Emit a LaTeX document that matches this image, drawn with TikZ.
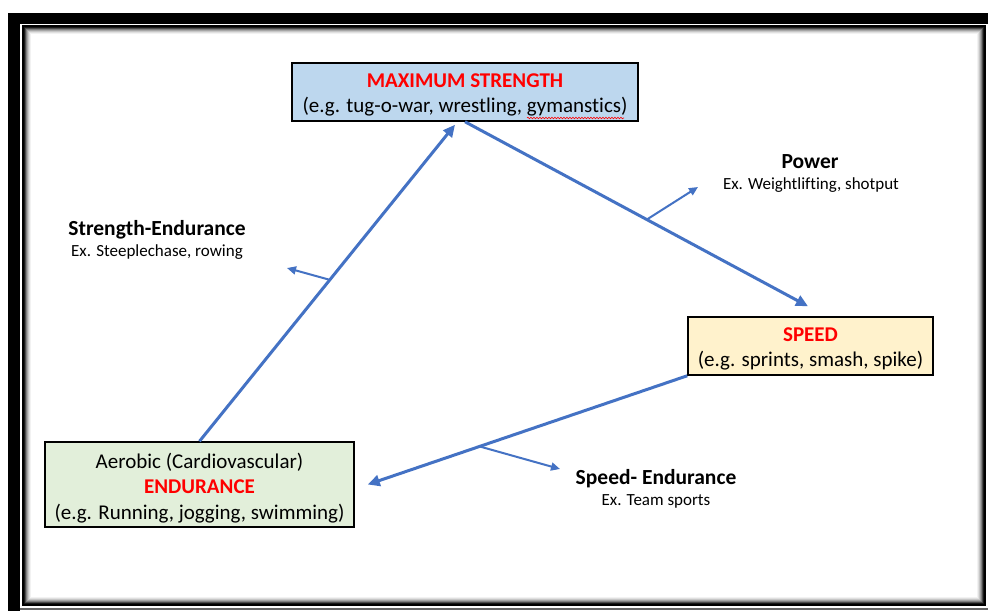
\documentclass[tikz,border=0pt]{standalone}
\usepackage{fontspec}
\setmainfont{Carlito}[Ligatures={NoCommon}]
\usetikzlibrary{arrows.meta,decorations.pathmorphing}
\definecolor{arrowblue}{HTML}{4472C4}
\definecolor{boxblue}{HTML}{BDD7EE}
\definecolor{boxyellow}{HTML}{FFF2CC}
\definecolor{boxgreen}{HTML}{E2EFDA}
\definecolor{titlered}{HTML}{FF0000}

\begin{document}
\begin{tikzpicture}[x=1pt,y=-1pt]
\tikzstyle{every node}+=[inner sep=0pt]
\tikzstyle{box}=[draw=black,line width=1.5pt,align=center,font=\fontsize{21}{25.5}\selectfont]
\tikzstyle{bigarrow}=[draw=arrowblue,line width=3pt,-{Triangle[length=12pt,width=11pt]}]
\tikzstyle{smallarrow}=[draw=arrowblue,line width=2pt,-{Triangle[length=9pt,width=8pt]}]
\tikzstyle{head}=[font=\fontsize{21.5}{24}\selectfont\bfseries]
\tikzstyle{sub}=[font=\fontsize{17}{20}\selectfont]
\useasboundingbox (0,0) rectangle (988,611);
% frame
\fill[white] (0,0) rectangle (988,611);
\fill[black] (8,12.5) rectangle (988,611);
\fill[white] (20,23.5) rectangle (988,607.5);
\draw[black!60,line width=1.5pt] (20,609) -- (988,609);
\fill[white] (20,610) rectangle (988,611);
\foreach \i/\c in {0/100,1/100,2/90,3/70,4/50,5/35,6/22,7/12,8/5}
  \fill[black!\c] (22+\i,25+\i) rectangle (986-\i,606-\i);
\fill[white] (31,34) rectangle (977,597);
% boxes
\node[box,fill=boxblue,minimum width=346,minimum height=58] (strength) at (465,92)
  {\rule{0pt}{19.5pt}{\color{titlered}\bfseries MAXIMUM STRENGTH}\\(e.g. tug-o-war, wrestling, gymanstics)};
\node[box,fill=boxyellow,minimum width=245,minimum height=58] (speed) at (810.5,346)
  {\rule{0pt}{19.5pt}{\color{titlered}\bfseries SPEED}\\(e.g. sprints, smash, spike)};
\node[box,fill=boxgreen,minimum width=309,minimum height=85] (endurance) at (199.5,484.5)
  {\rule{0pt}{22pt}Aerobic (Cardiovascular)\\{\color{titlered}\bfseries ENDURANCE}\\(e.g. Running, jogging, swimming)};
\draw[titlered,line width=0.6pt,decorate,decoration={snake,amplitude=0.8pt,segment length=3pt}]
  (527,118) -- (624,118);
% labels
\node[head] (strend) at (157,230) {Strength-Endurance};
\node[sub] (strendex) at (157,252) {Ex. Steeplechase, rowing};
\node[head] (power) at (810,162) {Power};
\node[sub] (powerex) at (811,185) {Ex. Weightlifting, shotput};
\node[head] (spend) at (656,479) {Speed- Endurance};
\node[sub] (spendex) at (656,501) {Ex. Team sports};
% arrows
\draw[bigarrow] (endurance.north) -- coordinate[pos=0.51] (se)
  ([xshift=-10pt,yshift=-3pt]strength.south);
\draw[bigarrow] (strength.south) -- coordinate[pos=0.53] (pw)
  ([xshift=-2.5pt,yshift=10pt]speed.north);
\draw[bigarrow] (speed.south west) -- coordinate[pos=0.65] (sp)
  ([xshift=13pt]endurance.east);
\coordinate (seend) at (287,268);
\coordinate (pwend) at (698,187);
\coordinate (spendend) at (560,469);
\draw[smallarrow] (se) -- (seend);
\draw[smallarrow] (pw) -- (pwend);
\draw[smallarrow] (sp) -- (spendend);
\end{tikzpicture}
\end{document}
